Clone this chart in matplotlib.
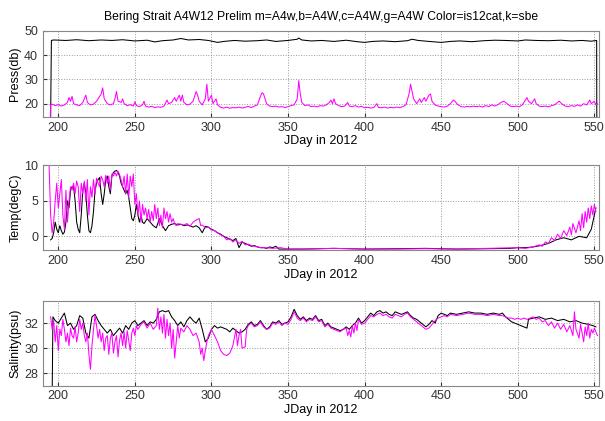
#!/usr/bin/env python3
import matplotlib
matplotlib.use("Agg")
import matplotlib.pyplot as plt
import numpy as np

# pressure, black (sbe)
press_k = [(195, 13), (195.5, 46), (197, 46.2), (205, 46), (212, 46.3), (220, 45.9), (228, 46.2),
           (235, 46), (242, 46.3), (250, 45.8), (258, 46.1), (263, 45.4), (268, 45.9), (275, 46.2),
           (280, 46.8), (285, 46.2), (292, 46.4), (298, 46), (304, 45.2), (308, 45.6), (315, 46),
           (322, 45.7), (330, 45.9), (336, 46.2), (342, 45.6), (350, 46), (356, 46.5), (357, 47),
           (359, 46.2), (365, 45.8), (372, 46), (380, 45.6), (388, 46.1), (395, 45.5), (400, 45.2),
           (405, 45.6), (412, 45.8), (420, 45.5), (428, 45.9), (431, 46.5), (435, 46), (442, 45.6),
           (450, 45.2), (456, 45.6), (462, 45.8), (470, 45.5), (478, 45.9), (485, 46.1), (492, 46),
           (500, 45.8), (505, 46.2), (512, 46), (520, 45.9), (528, 46.1), (535, 45.8), (542, 46),
           (548, 45.7), (551.5, 46), (551.6, 13)]

# pressure, magenta (is12cat)
press_m = [(194.5, 5), (195, 19.5), (196, 19.8), (198, 19.2), (200, 19.6), (202, 19.0), (204, 19.5),
           (206, 20.5), (207, 22.5), (208, 21), (209, 23), (210, 20), (212, 19.5), (214, 19.2),
           (216, 20.5), (218, 23.5), (219, 20.5), (221, 19.5), (223, 19.8), (225, 21), (227, 23),
           (228, 24), (229, 26.5), (230, 22), (232, 20), (234, 19.5), (236, 20), (237, 22), (238, 25),
           (239, 21), (241, 20.5), (242, 22), (243, 20), (245, 19.2), (247, 19.6), (249, 19),
           (250, 20.8), (251, 19.2), (253, 18.8), (255, 19.5), (256, 21), (257, 19), (259, 18.6),
           (261, 18.9), (263, 18.4), (265, 18.7), (267, 18.5), (269, 19), (271, 21.5), (272, 20),
           (274, 20.5), (276, 22.5), (277, 21), (279, 23.5), (280, 21), (281, 23.5), (282, 20.5),
           (284, 19.5), (286, 19.8), (288, 21), (290, 25), (291, 23.5), (292, 21), (294, 19.5),
           (296, 22), (297, 28), (298, 21), (300, 23.5), (301, 20), (303, 22), (304, 19.5),
           (306, 18.5), (308, 18.2), (310, 18.6), (312, 18.1), (314, 18.4), (316, 18.3), (318, 18.6),
           (320, 18.2), (322, 18.5), (324, 18.9), (326, 18.4), (328, 19), (330, 19.5), (332, 23),
           (333, 24.5), (334, 24), (335, 22), (336, 20), (338, 19), (340, 18.8), (342, 19),
           (344, 18.6), (346, 18.8), (348, 18.4), (350, 18.8), (352, 19.2), (354, 19.5), (356, 22),
           (357, 29.5), (358, 24), (359, 20.5), (361, 19.2), (363, 19.5), (365, 18.8), (367, 19),
           (369, 18.7), (371, 19.2), (373, 19), (375, 19.5), (377, 20.5), (378, 21.5), (379, 20),
           (380, 22), (381, 20), (383, 19.2), (385, 18.8), (387, 19), (389, 20.5), (390, 19),
           (392, 18.8), (394, 19.2), (396, 18.6), (398, 18.9), (400, 18.3), (402, 18.5), (404, 18.2),
           (406, 18.4), (408, 20), (409, 18.5), (411, 18.3), (413, 18.6), (415, 18.2), (417, 18.5),
           (419, 18.3), (421, 18.6), (423, 18.4), (425, 18.8), (427, 19.5), (429, 24), (430, 28),
           (431, 25), (432, 22), (434, 20), (436, 22), (437, 20.5), (439, 22.5), (440, 21),
           (442, 23.5), (443, 24), (444, 21), (446, 19.5), (448, 19), (450, 18.8), (452, 18.6),
           (454, 19), (456, 20), (458, 21.5), (459, 21), (461, 19.5), (463, 18.8), (465, 18.6),
           (467, 18.9), (469, 18.7), (471, 19), (473, 18.8), (475, 19), (477, 18.6), (479, 19.2),
           (481, 18.8), (483, 19.5), (485, 19), (487, 19.6), (489, 20.5), (491, 21), (493, 20),
           (495, 19), (497, 18.8), (499, 19), (501, 18.7), (503, 19.5), (505, 21.5), (506, 22.5),
           (507, 21), (509, 20), (511, 22), (512, 20), (514, 19), (516, 18.8), (518, 19), (520, 18.7),
           (522, 19.2), (524, 19.5), (526, 20.5), (527, 21), (529, 19.8), (531, 19), (533, 18.8),
           (535, 19.2), (537, 18.9), (539, 19.5), (541, 19), (543, 20), (545, 19.5), (547, 21.5),
           (548, 20), (550, 21), (551, 19.5), (552, 20)]

# temperature, black
temp_k = [(195, -0.5), (196, -0.3), (197, 0.5), (198, 2), (199, 1), (200, 0.5), (201, 1.5), (202, 0.8),
          (203, 0.3), (204, 0.6), (205, 2), (206, 5), (207, 4), (208, 6.5), (209, 7), (210, 7), (211, 5),
          (212, 2), (213, 1), (214, 0.5), (215, 3), (216, 6.5), (217, 7.5), (218, 6), (219, 3),
          (220, 0.8), (221, 0.5), (222, 1.5), (223, 3.5), (224, 6.5), (225, 7.5), (226, 8), (227, 8.3),
          (228, 6), (229, 4.5), (230, 6), (231, 8), (232, 8.5), (233, 7), (234, 6), (235, 8.5),
          (236, 9), (237, 9.2), (238, 9.3), (239, 9), (240, 8.5), (241, 7.5), (242, 7), (243, 6.5),
          (244, 6), (245, 6.5), (246, 5.5), (247, 4), (248, 2.5), (249, 2.2), (250, 3), (251, 4.5),
          (252, 3), (253, 2), (254, 3), (255, 2), (256, 1.8), (258, 2.5), (260, 2), (262, 1.5),
          (264, 1.2), (266, 2.5), (268, 1.5), (270, 0.8), (272, 1.5), (274, 1.7), (276, 1.8),
          (278, 1.6), (280, 1.7), (282, 1.5), (284, 1.6), (286, 1.5), (288, 1.3), (290, 1.5),
          (292, 1.2), (294, 0.5), (296, 1.4), (298, 1.3), (300, 1), (302, 0.8), (304, 0.5), (306, 0.3),
          (308, 0), (310, -0.2), (312, -0.4), (314, -0.6), (316, -0.3), (318, -1.6), (320, -0.8),
          (322, -1.0), (324, -1.2), (326, -1.4), (328, -1.3), (330, -1.5), (332, -1.6), (334, -1.6),
          (336, -1.7), (338, -1.5), (340, -1.6), (342, -1.4), (344, -1.8), (350, -1.8), (360, -1.8),
          (380, -1.7), (400, -1.8), (440, -1.7), (460, -1.8), (480, -1.75), (495, -1.7), (500, -1.6),
          (505, -1.6), (510, -1.5), (515, -1.3), (520, -1.0), (525, -0.5), (530, -0.2), (535, -0.5),
          (540, 0), (545, -0.2), (548, 1), (550, 3), (551, 4)]

# temperature, magenta
temp_m = [(193.5, 12), (194, 10), (195, 3), (196, 0.5), (197, 2), (198, 5), (199, 7.5), (200, 4),
          (201, 6), (202, 8), (203, 3), (204, 1), (205, 6.5), (206, 2), (207, 5), (208, 7), (209, 6.5),
          (210, 7.5), (211, 6), (212, 7.8), (213, 7), (214, 3.5), (215, 7.5), (216, 6), (217, 7.8),
          (218, 5), (219, 8), (220, 3), (221, 7), (222, 5.5), (223, 8), (224, 6), (225, 8.2),
          (226, 7.5), (227, 7), (228, 8.5), (229, 8), (230, 7), (231, 8.6), (232, 7.5), (233, 8.5),
          (234, 6.5), (235, 8.8), (236, 8.5), (237, 9), (238, 8.5), (239, 9.2), (240, 8.7), (241, 8),
          (242, 7), (243, 8.5), (244, 6), (245, 8.8), (246, 5.5), (247, 8.5), (248, 7), (249, 8.8),
          (250, 4.5), (251, 6), (252, 3), (253, 5), (254, 2), (255, 4.5), (256, 3), (257, 4),
          (258, 2.5), (259, 3.8), (260, 2), (261, 3.5), (262, 2.2), (263, 4.5), (264, 2.5), (265, 4),
          (266, 1.5), (267, 3), (268, 1.2), (269, 4), (270, 2.5), (271, 3.5), (272, 2), (273, 3.2),
          (274, 2), (275, 2.5), (276, 1.8), (277, 1.5), (278, 1.8), (280, 1.7), (282, 1.6), (284, 1.8),
          (286, 1.4), (288, 2), (290, 2.3), (292, 2.5), (293, 1.5), (294, 1.6), (296, 1.2), (298, 1.3),
          (300, 0.9), (302, 0.8), (304, 0.5), (306, 0.2), (308, 0), (310, -0.5), (312, -0.3),
          (314, -0.8), (316, -0.5), (318, -1), (320, -0.7), (322, -1.2), (324, -1.1), (326, -1.3),
          (328, -1.4), (330, -1.5), (332, -1.6), (335, -1.6), (340, -1.7), (345, -1.6), (350, -1.8),
          (360, -1.8), (380, -1.7), (400, -1.8), (420, -1.8), (440, -1.75), (460, -1.8), (480, -1.7),
          (500, -1.6), (505, -1.7), (510, -1.5), (514, -1.2), (516, -1.4), (518, -0.8), (520, -1.0),
          (522, -0.2), (524, -0.6), (526, 0.3), (528, -0.3), (530, 0.8), (532, 0.1), (534, 1.3),
          (535, 0.2), (536, 1.8), (538, 0.5), (540, 2.2), (541, 0.8), (542, 3.2), (543, 1.2),
          (544, 3.5), (545, 2), (546, 4), (547, 2.5), (548, 4.3), (549, 3), (550, 4.5), (551, 3.5)]

# salinity, black
sal_k = [(196, 26), (196.5, 32.5), (198, 32.2), (200, 32.0), (202, 32.4), (204, 32.8), (206, 31.8),
         (208, 32.0), (210, 31.5), (212, 31.8), (214, 32.6), (216, 32.4), (218, 31.2), (220, 30.8),
         (222, 32.5), (224, 32.7), (226, 32.2), (228, 31.8), (230, 31.5), (232, 31.2), (234, 31.5),
         (236, 31.0), (238, 31.3), (240, 31.6), (242, 31.2), (244, 31.8), (246, 31.5), (248, 32.0),
         (250, 32.2), (252, 31.8), (254, 32.0), (256, 32.2), (258, 31.8), (260, 32.1), (262, 32.0),
         (264, 32.3), (266, 32.9), (268, 33.0), (270, 32.9), (272, 33.0), (274, 32.5), (276, 32.2),
         (278, 31.8), (280, 32.1), (282, 31.7), (284, 32.2), (286, 32.5), (288, 32.2), (290, 32.0),
         (292, 32.4), (294, 31.5), (296, 30.5), (298, 30.8), (300, 31.5), (302, 31.8), (304, 31.6),
         (306, 31.7), (308, 31.6), (310, 31.5), (312, 31.3), (314, 31.6), (316, 31.4), (318, 31.2),
         (320, 31.3), (322, 31.5), (324, 31.9), (326, 32.1), (328, 31.8), (330, 31.9), (332, 32.2),
         (334, 31.8), (336, 31.5), (338, 31.7), (340, 32.1), (342, 32.0), (344, 32.2), (346, 31.9),
         (348, 32.0), (350, 32.1), (352, 32.5), (354, 33.1), (356, 32.6), (358, 32.3), (360, 32.5),
         (362, 32.2), (364, 32.4), (366, 32.3), (368, 32.6), (370, 32.2), (372, 32.3), (374, 31.8),
         (376, 32.0), (378, 31.7), (380, 31.6), (382, 31.5), (384, 31.4), (386, 31.5), (388, 31.7),
         (390, 31.5), (392, 31.8), (394, 32.0), (396, 32.4), (398, 32.0), (400, 32.2), (402, 32.5),
         (404, 32.8), (406, 32.6), (408, 32.9), (410, 33.0), (412, 32.8), (414, 32.9), (416, 32.7),
         (418, 32.6), (420, 32.9), (422, 32.8), (424, 32.7), (426, 32.8), (428, 32.9), (430, 32.6),
         (432, 32.4), (434, 32.3), (436, 32.1), (438, 31.9), (440, 31.7), (442, 31.9), (444, 32.2),
         (446, 32.0), (448, 32.6), (450, 32.8), (452, 32.7), (454, 32.6), (456, 32.8), (460, 32.7),
         (464, 32.8), (468, 32.9), (472, 32.8), (476, 32.8), (480, 32.7), (484, 32.8), (488, 32.7),
         (490, 32.8), (492, 32.5), (494, 32.3), (496, 32.1), (498, 32.0), (500, 31.9), (502, 31.8),
         (504, 31.7), (506, 31.6), (507, 32.3), (510, 32.4), (514, 32.5), (518, 32.3), (522, 32.4),
         (526, 32.2), (530, 32.3), (534, 32.1), (538, 32.2), (542, 32.0), (546, 31.9), (549, 31.8),
         (551, 31.7)]

# salinity, magenta
sal_m = [(195, 32.5), (196, 31.5), (197, 32.2), (198, 30.5), (199, 31.8), (200, 29.8), (201, 31.5),
         (202, 31.0), (203, 32.3), (204, 31.5), (205, 30.5), (206, 31.2), (207, 30.2), (208, 31.6),
         (209, 31.0), (210, 30.8), (211, 31.7), (212, 30.5), (213, 31.2), (214, 32.3), (215, 31.5),
         (216, 32.0), (217, 31.0), (218, 30.5), (219, 31.2), (220, 29.5), (221, 28.3), (222, 30.2),
         (223, 31.5), (224, 32.6), (225, 31.8), (226, 30.8), (227, 31.5), (228, 30.5), (229, 31.2),
         (230, 29.8), (231, 30.8), (232, 31.0), (233, 29.5), (234, 30.8), (235, 31.2), (236, 29.6),
         (237, 30.5), (238, 31.0), (239, 29.3), (240, 30.6), (241, 31.2), (242, 30.2), (243, 31.3),
         (244, 30.0), (245, 31.4), (246, 30.6), (247, 29.8), (248, 31.2), (249, 31.6), (250, 31.0),
         (251, 31.8), (252, 31.5), (254, 31.9), (256, 32.1), (258, 31.6), (260, 32.0), (262, 31.5),
         (264, 31.8), (265, 33.2), (266, 31.5), (267, 32.5), (268, 31.2), (269, 32.7), (270, 30.8),
         (271, 32.3), (272, 31.0), (273, 32.0), (274, 30.0), (275, 31.5), (276, 29.2), (277, 30.5),
         (278, 31.8), (279, 30.8), (280, 31.6), (282, 31.3), (284, 31.8), (286, 31.5), (288, 31.0),
         (290, 31.2), (292, 30.5), (293, 29.5), (294, 30.0), (295, 29.0), (296, 29.8), (297, 30.5),
         (298, 31.0), (300, 31.5), (302, 31.0), (304, 30.5), (306, 29.8), (308, 29.5), (310, 29.4),
         (312, 29.6), (314, 30.2), (316, 31.5), (317, 30.2), (318, 31.0), (319, 31.5), (320, 30.0),
         (322, 30.1), (323, 31.5), (324, 31.8), (326, 32.0), (328, 31.7), (330, 31.8), (332, 32.1),
         (334, 31.7), (336, 31.5), (338, 31.6), (340, 32.0), (342, 31.9), (344, 32.1), (346, 31.8),
         (348, 32.0), (350, 31.9), (352, 32.3), (354, 32.9), (356, 32.4), (358, 32.2), (360, 32.4),
         (362, 32.1), (364, 32.3), (366, 32.2), (368, 32.5), (370, 32.1), (372, 32.2), (374, 31.7),
         (376, 31.9), (378, 31.6), (380, 31.5), (382, 31.4), (384, 31.3), (386, 31.5), (388, 31.6),
         (389, 31.0), (390, 31.4), (391, 30.9), (392, 31.8), (393, 31.2), (394, 32.0), (395, 31.4),
         (396, 32.3), (398, 31.9), (400, 32.0), (402, 32.3), (404, 32.6), (406, 32.5), (408, 32.7),
         (410, 32.8), (412, 32.6), (414, 32.7), (416, 32.5), (418, 32.4), (420, 32.7), (422, 32.6),
         (424, 32.5), (426, 32.7), (428, 32.8), (430, 32.5), (432, 32.3), (434, 32.1), (436, 31.9),
         (438, 31.7), (440, 31.5), (442, 31.6), (444, 31.9), (446, 32.2), (448, 32.4), (450, 32.5),
         (452, 32.6), (454, 32.5), (456, 32.7), (460, 32.6), (464, 32.7), (468, 32.8), (472, 32.7),
         (476, 32.7), (480, 32.6), (484, 32.7), (488, 32.6), (490, 32.6), (492, 32.5), (494, 32.4),
         (496, 32.4), (498, 32.3), (500, 32.4), (502, 32.3), (504, 32.4), (506, 32.3), (508, 32.4),
         (510, 32.5), (512, 32.3), (514, 32.4), (516, 32.1), (518, 32.2), (520, 31.8), (522, 32.1),
         (524, 31.6), (526, 32.0), (528, 31.5), (530, 31.9), (532, 31.3), (534, 31.8), (536, 31.0),
         (537, 32.9), (538, 31.5), (540, 30.8), (541, 31.9), (542, 31.2), (543, 30.5), (544, 31.7),
         (545, 31.0), (546, 32.0), (547, 30.8), (548, 31.5), (549, 31.2), (550, 31.6), (551, 31.3),
         (552, 31.0)]

xticks = [200, 250, 300, 350, 400, 450, 500, 550]
title = "Bering Strait A4W12 Prelim m=A4w,b=A4W,c=A4W,g=A4W Color=is12cat,k=sbe"

plt.rcParams['font.family'] = ['Liberation Sans', 'DejaVu Sans']

fig = plt.figure(figsize=(6.05, 4.21), dpi=100)
boxes = [[0.071, 0.722, 0.919, 0.205],
         [0.071, 0.405, 0.919, 0.202],
         [0.071, 0.084, 0.919, 0.202]]
panels = [(press_k, press_m, "Press(db)", (14.5, 50), [20, 30, 40, 50]),
          (temp_k, temp_m, "Temp(degC)", (-2, 10), [0, 5, 10]),
          (sal_k, sal_m, "Salinity(psu)", (27, 33.8), [28, 30, 32])]

for i, (kdat, mdat, ylab, ylim, yt) in enumerate(panels):
    ax = fig.add_axes(boxes[i])
    k = np.array(kdat).T
    m = np.array(mdat).T
    ax.plot(k[0], k[1], color='black', lw=0.75)
    ax.plot(m[0], m[1], color='magenta', lw=0.75)
    ax.set_xlim(190, 553)
    ax.set_ylim(*ylim)
    ax.set_xticks(xticks)
    ax.set_yticks(yt)
    ax.grid(True, linestyle=':', color='#999999', lw=0.7)
    ax.tick_params(direction='in', length=3, labelsize=9, colors='#333333')
    for s in ax.spines.values():
        s.set_color('#888888')
    ax.set_xlabel("JDay in 2012", fontsize=9, labelpad=1)
    ax.set_ylabel(ylab, fontsize=9, labelpad=2)
    if i == 0:
        ax.set_title(title, fontsize=8.7, pad=8)

fig.savefig("out.png", dpi=100)
